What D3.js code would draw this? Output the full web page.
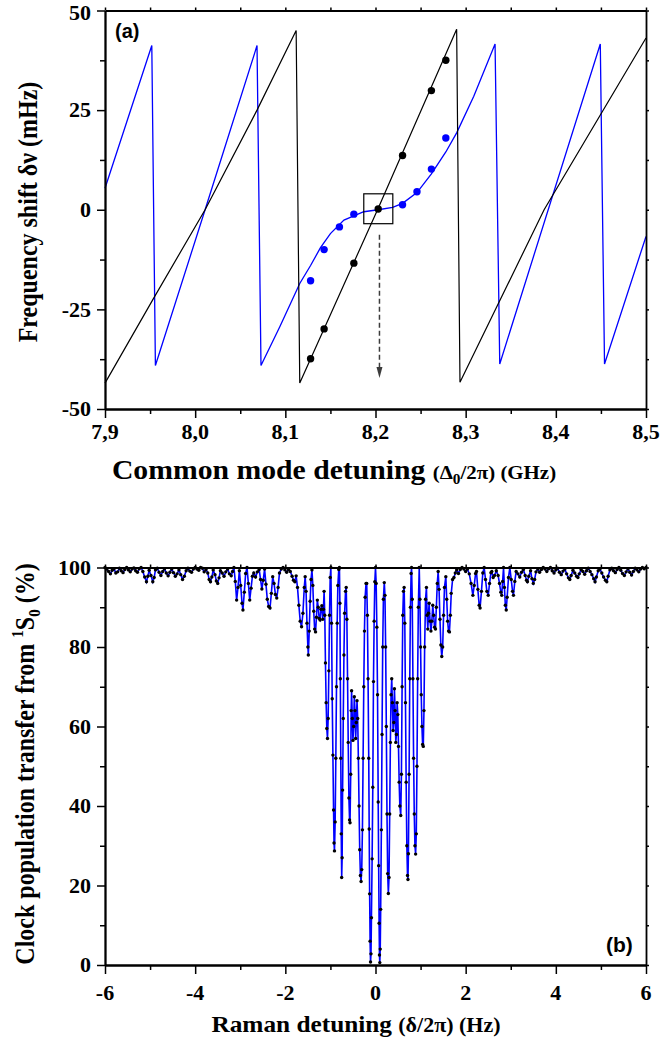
<!DOCTYPE html>
<html><head><meta charset="utf-8">
<script src="https://cdn.jsdelivr.net/npm/d3@7"></script>
<style>body{margin:0;background:#fff}svg{display:block}</style>
</head><body>
<svg id="c" width="660" height="1045"></svg>
<script>
// ---------------- DATA ----------------
// Panel (a)
const shiftTicks = [-50, -25, 0, 25, 50];
const shiftMinorTicks = [-37.5, -12.5, 12.5, 37.5];
const commonTicks = [7.9, 8.0, 8.1, 8.2, 8.3, 8.4, 8.5];
const commonTickLabels = ["7,9", "8,0", "8,1", "8,2", "8,3", "8,4", "8,5"];
const commonMinorTicks = [7.95, 8.05, 8.15, 8.25, 8.35, 8.45];

const blackCurveX = [7.9, 7.9537, 8.011, 8.0686, 8.112, 8.116, 8.203, 8.29, 8.2937, 8.387, 8.5];
const blackCurveY = [-43.5, -22.3, 0, 25, 45, -43.5, 0.4, 45.3, -43.3, 0, 43.1];

const blueCurveX = [7.9, 7.9519, 7.9559, 8.011, 8.0686, 8.073, 8.094, 8.116, 8.128, 8.139, 8.15, 8.165, 8.187, 8.203,
  8.219, 8.23, 8.246, 8.262, 8.278, 8.29, 8.309, 8.3326, 8.3378, 8.4493, 8.454, 8.5];
const blueCurveY = [5.4, 41.2, -39.1, 0, 41.2, -39.1, -29.3, -18.5, -14, -9.5, -6, -2.6, -0.5, 0,
  0.6, 1.6, 4.3, 9, 14.5, 19.3, 28.5, 41.6, -38.7, 41.6, -38.7, -6.7];

const blackDotsX = [8.128, 8.143, 8.176, 8.203, 8.230, 8.262, 8.278];
const blackDotsY = [-37.4, -29.9, -13.4, 0.2, 13.6, 29.9, 37.5];
const blueDotsX = [8.128, 8.143, 8.160, 8.176, 8.230, 8.246, 8.262, 8.278];
const blueDotsY = [-17.8, -10.0, -4.3, -1.1, 1.25, 4.5, 10.2, 18.0];

const zoomBox = {x0: 8.187, x1: 8.2192, y0: -3.5, y1: 4};
const arrowLine = {x: 8.2044, y0: -6.3, y1: -42.2};

// Panel (b)
const transferTicks = [0, 20, 40, 60, 80, 100];
const transferMinorTicks = [10, 30, 50, 70, 90];
const ramanTicks = [-6, -4, -2, 0, 2, 4, 6];
const ramanMinorTicks = [-5, -3, -1, 1, 3, 5];

const ramanPoints = [
[-6.00,100],[-5.96,99.6],[-5.92,99.0],[-5.88,98.4],[-5.84,99.3],[-5.80,99.7],[-5.76,98.6],[-5.72,98.9],[-5.68,99.8],[-5.64,99.2],
[-5.60,98.7],[-5.56,99.5],[-5.52,100],[-5.48,99.4],[-5.44,98.9],[-5.40,99.6],[-5.36,99.9],[-5.32,99.2],[-5.28,98.8],[-5.24,99.7],
[-5.20,100],[-5.16,99.0],[-5.12,97.6],[-5.08,96.4],[-5.05,97.8],[-5.02,99.3],[-4.98,98.0],[-4.94,96.4],[-4.91,97.5],[-4.88,99.4],
[-4.84,99.8],[-4.80,98.8],[-4.76,98.0],[-4.72,99.0],[-4.68,99.7],[-4.64,98.6],[-4.60,97.9],[-4.56,98.8],[-4.52,99.6],[-4.48,98.7],
[-4.44,97.8],[-4.40,98.4],[-4.36,99.4],[-4.32,98.2],[-4.28,97.0],[-4.24,97.8],[-4.20,99.2],[-4.16,99.8],[-4.12,99.1],[-4.08,98.8],
[-4.04,99.6],[-4.00,100],[-3.96,99.6],[-3.92,99.3],[-3.88,100],[-3.84,99.8],[-3.80,98.9],[-3.76,99.5],[-3.72,98.6],[-3.69,97.0],
[-3.66,96.4],[-3.63,97.6],[-3.60,99.4],[-3.56,98.2],[-3.53,96.6],[-3.50,96.0],[-3.47,97.4],[-3.44,99.2],[-3.40,98.6],[-3.36,97.8],
[-3.32,98.9],[-3.28,99.6],[-3.24,98.4],[-3.20,97.9],[-3.17,99.0],[-3.14,100],[-3.11,96.5],[-3.08,91.8],[-3.05,95.0],[-3.02,99.2],
[-2.99,95.5],[-2.96,91.0],[-2.94,89.3],[-2.91,93.8],[-2.88,98.5],[-2.85,100],[-2.82,96.0],[-2.79,91.8],[-2.76,94.8],[-2.73,97.8],
[-2.70,98.6],[-2.66,97.6],[-2.62,98.9],[-2.58,99.5],[-2.55,97.0],[-2.52,94.6],[-2.49,96.8],[-2.46,99.6],[-2.43,95.8],[-2.40,92.0],
[-2.37,90.2],[-2.34,89.8],[-2.31,93.5],[-2.28,97.7],[-2.25,96.0],[-2.22,93.2],[-2.19,92.3],[-2.16,95.0],[-2.13,98.6],[-2.09,99.6],
[-2.05,100],[-2.01,99.4],[-1.97,98.8],[-1.93,99.5],[-1.89,99.0],[-1.85,97.8],[-1.82,96.8],[-1.79,96.4],[-1.76,97.9],[-1.73,95.0],
[-1.70,90.5],[-1.67,86.5],[-1.64,85.1],[-1.61,88.5],[-1.58,95.0],[-1.56,97.7],[-1.54,94.0],[-1.52,86.0],[-1.50,80.0],[-1.49,78.0],
[-1.47,84.0],[-1.45,91.5],[-1.43,97.0],[-1.41,99.4],[-1.39,95.5],[-1.37,89.0],[-1.35,84.5],[-1.33,83.8],[-1.31,87.5],[-1.29,91.8],
[-1.27,90.0],[-1.25,87.2],[-1.23,86.8],[-1.21,89.5],[-1.19,90.4],[-1.17,87.0],[-1.155,89.5],[-1.14,94.0],[-1.125,88.0],[-1.11,76.0],
[-1.095,66.0],[-1.08,59.5],[-1.065,57.0],[-1.05,62.0],[-1.035,74.0],[-1.02,88.0],[-1.005,97.5],[-0.99,100],[-0.975,86.0],[-0.96,67.0],
[-0.945,52.8],[-0.93,39.0],[-0.92,30.7],[-0.91,28.7],[-0.895,36.0],[-0.88,52.0],[-0.865,70.0],[-0.85,86.0],[-0.835,95.5],[-0.815,99.5],
[-0.80,100],[-0.79,91.0],[-0.78,72.0],[-0.77,52.0],[-0.76,33.0],[-0.75,22.0],[-0.74,27.0],[-0.73,44.0],[-0.715,62.0],[-0.70,78.0],
[-0.685,88.5],[-0.665,94.0],[-0.65,95.0],[-0.635,87.0],[-0.62,72.0],[-0.605,56.0],[-0.59,42.0],[-0.575,36.5],[-0.565,35.8],[-0.55,48.0],
[-0.54,64.0],[-0.53,69.0],[-0.515,62.0],[-0.50,56.5],[-0.485,60.0],[-0.47,67.5],[-0.455,64.0],[-0.44,57.0],[-0.425,61.0],[-0.41,66.5],
[-0.395,62.0],[-0.38,52.0],[-0.365,40.0],[-0.35,29.0],[-0.335,22.5],[-0.32,21.0],[-0.305,24.0],[-0.29,34.0],[-0.275,52.0],[-0.26,70.0],
[-0.245,84.0],[-0.23,92.5],[-0.21,96.0],[-0.195,96.0],[-0.18,88.0],[-0.165,72.0],[-0.15,52.0],[-0.14,34.2],[-0.13,17.9],[-0.12,6.0],
[-0.11,0.75],[-0.10,2.8],[-0.09,11.9],[-0.075,26.7],[-0.06,44.7],[-0.045,71.3],[-0.03,86.5],[-0.015,96.4],[0,100],
[0.015,96.0],[0.03,85.0],[0.045,68.0],[0.06,41.0],[0.07,25.0],[0.08,10.5],[0.088,2.5],[0.095,0.6],[0.105,4.0],[0.115,14.0],
[0.13,34.0],[0.145,58.0],[0.16,80.0],[0.175,92.0],[0.195,96.2],[0.21,93.0],[0.225,80.0],[0.24,60.0],[0.255,38.0],[0.27,23.0],
[0.285,18.0],[0.30,22.0],[0.315,38.0],[0.33,56.0],[0.345,68.0],[0.36,72.0],[0.375,66.0],[0.39,59.0],[0.405,61.0],[0.42,69.5],
[0.435,64.0],[0.45,56.0],[0.465,58.0],[0.48,66.0],[0.495,63.0],[0.51,55.0],[0.525,46.0],[0.54,40.0],[0.56,37.6],[0.575,48.0],
[0.59,70.0],[0.605,88.0],[0.62,94.0],[0.635,95.0],[0.65,86.0],[0.665,66.0],[0.68,46.0],[0.695,30.0],[0.71,22.5],[0.72,21.5],
[0.73,28.0],[0.745,48.0],[0.76,72.0],[0.775,90.0],[0.79,98.5],[0.80,100],[0.815,92.0],[0.83,72.0],[0.845,52.0],[0.86,38.0],
[0.875,30.0],[0.89,27.9],[0.905,33.0],[0.92,50.0],[0.935,72.0],[0.95,90.0],[0.97,100],[0.985,92.0],[1.00,80.0],[1.015,68.0],
[1.03,60.0],[1.045,55.5],[1.06,55.0],[1.075,64.0],[1.09,80.0],[1.11,92.0],[1.13,95.0],[1.145,88.0],[1.16,84.5],[1.175,88.5],
[1.19,91.0],[1.21,86.5],[1.23,84.0],[1.25,86.5],[1.27,90.5],[1.29,88.0],[1.31,85.0],[1.33,84.5],[1.35,90.0],[1.37,96.0],
[1.39,99.0],[1.41,94.5],[1.43,87.0],[1.45,80.5],[1.47,77.6],[1.49,80.0],[1.51,88.0],[1.53,95.0],[1.56,97.7],[1.58,92.0],
[1.60,86.5],[1.62,84.0],[1.64,83.8],[1.66,88.0],[1.68,93.5],[1.71,97.0],[1.74,97.5],[1.77,98.6],[1.80,99.4],[1.84,98.5],
[1.88,99.5],[1.92,100],[1.96,99.6],[2.00,99.0],[2.04,99.6],[2.08,98.4],[2.12,96.0],[2.16,93.0],[2.19,95.5],[2.22,98.5],
[2.24,99.0],[2.27,94.5],[2.30,90.5],[2.32,89.8],[2.35,94.0],[2.38,98.6],[2.41,100],[2.44,97.0],[2.47,94.0],[2.50,93.0],
[2.53,96.0],[2.56,98.7],[2.58,99.0],[2.61,97.5],[2.64,98.0],[2.68,99.2],[2.72,98.0],[2.75,96.0],[2.78,93.8],[2.80,93.0],
[2.82,96.5],[2.84,100],[2.86,95.0],[2.88,90.5],[2.90,89.3],[2.92,92.5],[2.95,97.5],[2.98,100],[3.01,97.0],[3.04,94.0],
[3.06,93.0],[3.09,96.5],[3.12,99.0],[3.16,98.4],[3.20,97.6],[3.24,98.8],[3.28,99.5],[3.32,98.0],[3.35,96.8],[3.37,96.4],
[3.40,97.8],[3.44,99.2],[3.47,97.2],[3.50,96.0],[3.53,97.0],[3.56,98.9],[3.60,99.6],[3.64,98.8],[3.68,99.5],[3.72,100],
[3.76,99.6],[3.80,99.0],[3.84,99.7],[3.88,100],[3.92,99.2],[3.96,98.6],[4.00,99.4],[4.04,99.8],[4.08,98.8],[4.12,98.2],
[4.16,99.1],[4.20,99.6],[4.24,98.4],[4.28,97.4],[4.31,97.0],[4.34,98.0],[4.38,99.3],[4.42,98.6],[4.46,97.8],[4.49,97.5],
[4.52,98.4],[4.56,99.5],[4.60,99.0],[4.64,98.3],[4.68,99.2],[4.72,99.8],[4.76,99.0],[4.80,98.2],[4.84,97.2],[4.87,96.4],
[4.90,97.6],[4.94,99.2],[4.98,99.6],[5.02,98.6],[5.06,97.6],[5.10,96.8],[5.13,96.4],[5.16,97.8],[5.20,99.4],[5.24,99.8],
[5.28,99.2],[5.32,98.7],[5.36,99.5],[5.40,100],[5.44,99.3],[5.48,98.5],[5.52,98.0],[5.56,98.9],[5.60,99.7],[5.64,98.8],
[5.68,98.1],[5.72,99.0],[5.76,99.8],[5.80,99.4],[5.84,98.9],[5.88,99.6],[5.92,100],[5.96,99.7],[6.00,100]
];

// ---------------- LAYOUT ----------------
const SERIF = "Liberation Serif, Times New Roman, serif";
const SANS = "Liberation Sans, Arial, sans-serif";
const L = 105, R = 646;
const aTop = 10.5, aBot = 409;
const bTop = 567.5, bBot = 965;

const svg = d3.select('#c');

const xa = d3.scaleLinear().domain([7.9, 8.5]).range([L, R]);
const ya = d3.scaleLinear().domain([-50, 50]).range([aBot, aTop]);
const xb = d3.scaleLinear().domain([-6, 6]).range([L, R]);
const yb = d3.scaleLinear().domain([0, 100]).range([bBot, bTop]);

function txt(g, x, y, s, size, anchor, opts = {}) {
  const sx = opts.sx || 1;
  const t = g.append('text')
    .attr('transform', `translate(${x},${y}) scale(${sx},1)` + (opts.rot ? ` rotate(${opts.rot})` : ''))
    .attr('text-anchor', anchor)
    .attr('font-family', opts.family || SERIF)
    .attr('font-weight', 'bold')
    .attr('font-size', size)
    .attr('fill', '#000');
  if (s !== null) t.text(s);
  return t;
}

function frame(g, x, y, top, bot, xMaj, xMin, yMaj, yMin, xFmt, yFmt, labelBase) {
  const st = sel => {
    sel.select('.domain').attr('stroke', '#000').attr('stroke-width', 1.8);
    sel.selectAll('.tick line').attr('stroke', '#000').attr('stroke-width', 1.5);
    sel.selectAll('text').remove();
  };
  g.append('g').attr('transform', `translate(0,${bot})`)
    .call(d3.axisBottom(x).tickValues(xMaj).tickSize(9).tickSizeOuter(0)).call(st);
  g.append('g').attr('transform', `translate(0,${bot})`)
    .call(d3.axisBottom(x).tickValues(xMin).tickSize(5).tickSizeOuter(0)).call(st);
  g.append('g').attr('transform', `translate(0,${top})`)
    .call(d3.axisTop(x).tickValues(xMaj.concat(xMin)).tickSize(3).tickSizeOuter(0)).call(st);
  g.append('g').attr('transform', `translate(${L},0)`)
    .call(d3.axisLeft(y).tickValues(yMaj).tickSize(8).tickSizeOuter(0)).call(st);
  g.append('g').attr('transform', `translate(${L},0)`)
    .call(d3.axisLeft(y).tickValues(yMin).tickSize(5).tickSizeOuter(0)).call(st);
  g.append('g').attr('transform', `translate(${R},0)`)
    .call(d3.axisRight(y).tickValues(yMaj.concat(yMin)).tickSize(3).tickSizeOuter(0)).call(st);
  xMaj.forEach((v, i) => txt(g, x(v), labelBase, xFmt(v, i), 22, 'middle'));
  // keep the topmost label fully inside the picture
  yMaj.forEach((v, i) => txt(g, 91, Math.max(y(v) + 7.3, 20), yFmt(v, i), 22, 'end'));
}

// ---------------- PANEL A ----------------
const ga = svg.append('g');
const lineA = d3.line().x(d => xa(d[0])).y(d => ya(d[1]));
ga.append('path').datum(blueCurveX.map((v, i) => [v, blueCurveY[i]]))
  .attr('d', lineA).attr('fill', 'none').attr('stroke', '#0000ff').attr('stroke-width', 1.3);
ga.append('path').datum(blackCurveX.map((v, i) => [v, blackCurveY[i]]))
  .attr('d', lineA).attr('fill', 'none').attr('stroke', '#000').attr('stroke-width', 1.2);

ga.append('rect').attr('x', xa(zoomBox.x0)).attr('y', ya(zoomBox.y1))
  .attr('width', xa(zoomBox.x1) - xa(zoomBox.x0)).attr('height', ya(zoomBox.y0) - ya(zoomBox.y1))
  .attr('fill', 'none').attr('stroke', '#000').attr('stroke-width', 1.2);

ga.selectAll('circle.bd').data(blueDotsX.map((v, i) => [v, blueDotsY[i]])).join('circle')
  .attr('class', 'bd').attr('cx', d => xa(d[0])).attr('cy', d => ya(d[1])).attr('r', 3.7).attr('fill', '#0000ff');
ga.selectAll('circle.kd').data(blackDotsX.map((v, i) => [v, blackDotsY[i]])).join('circle')
  .attr('class', 'kd').attr('cx', d => xa(d[0])).attr('cy', d => ya(d[1])).attr('r', 3.7).attr('fill', '#000');

const ax = xa(arrowLine.x), ay0 = ya(arrowLine.y0), ay1 = ya(arrowLine.y1);
ga.append('line').attr('x1', ax).attr('x2', ax).attr('y1', ay0).attr('y2', ay1 - 8)
  .attr('stroke', '#3c3c3c').attr('stroke-width', 1.5).attr('stroke-dasharray', '5,3');
ga.append('path').attr('d', `M${ax - 3},${ay1 - 11} L${ax + 3},${ay1 - 11} L${ax},${ay1} Z`).attr('fill', '#3c3c3c');

frame(ga, xa, ya, aTop, aBot, commonTicks, commonMinorTicks, shiftTicks, shiftMinorTicks,
  (v, i) => commonTickLabels[i], v => String(v), 438.5);

txt(ga, 115, 38, '(a)', 20, 'start', {family: SANS});

// axis titles (a)
txt(ga, 37, 212, 'Frequency shift δν (mHz)', 24, 'middle', {rot: -90, sx: 1.1});

const tax = txt(ga, 334, 479, null, 27, 'middle', {sx: 1.1});
tax.append('tspan').text('Common mode detuning ');
tax.append('tspan').attr('font-size', 19).text('(Δ');
tax.append('tspan').attr('font-size', 14).attr('dy', 5).text('0');
tax.append('tspan').attr('font-size', 19).attr('dy', -5).text('/2π) (GHz)');

// ---------------- PANEL B ----------------
const gb = svg.append('g');
const lineB = d3.line().x(d => xb(d[0])).y(d => yb(d[1]));
gb.append('path').datum(ramanPoints).attr('d', lineB)
  .attr('fill', 'none').attr('stroke', '#0000ff').attr('stroke-width', 1.6);
gb.selectAll('circle').data(ramanPoints).join('circle')
  .attr('cx', d => xb(d[0])).attr('cy', d => yb(d[1])).attr('r', 1.7).attr('fill', '#000');

frame(gb, xb, yb, bTop, bBot, ramanTicks, ramanMinorTicks, transferTicks, transferMinorTicks,
  v => String(v), v => String(v), 1000);

txt(gb, 606, 952, '(b)', 21, 'start', {family: SANS});

const tb = txt(gb, 34, 764, null, 24, 'middle', {rot: -90, sx: 1.1});
tb.append('tspan').text('Clock population transfer from ');
tb.append('tspan').attr('font-size', 15).attr('dy', -10).text('1');
tb.append('tspan').attr('dy', 10).text('S');
tb.append('tspan').attr('font-size', 15).attr('dy', 5).text('0');
tb.append('tspan').attr('dy', -5).text(' (%)');

const tbx = txt(gb, 356, 1032, null, 23, 'middle', {sx: 1.1});
tbx.append('tspan').text('Raman detuning ');
tbx.append('tspan').attr('font-size', 20).text('(δ/2π) (Hz)');
</script>
</body></html>
